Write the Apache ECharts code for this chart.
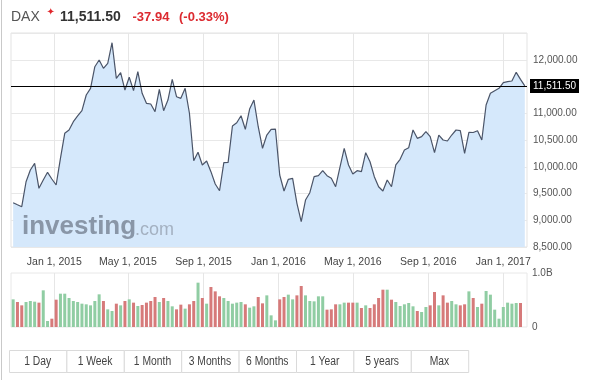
<!DOCTYPE html>
<html><head><meta charset="utf-8">
<script src="https://cdn.jsdelivr.net/npm/echarts@6/dist/echarts.min.js"></script>
<style>html,body{margin:0;padding:0;background:#fff}#c{width:600px;height:380px}</style>
</head><body><div id="c"></div>
<script>
// ---- data ----
const symbolName = 'DAX';
const lastPrice = 11511.50;
const priceChange = -37.94;
const priceChangePct = -0.33;
const firstWeek = '2014-10-26'; // weekly points, one per week from this date
const closes = [
  9328, 9290, 9253, 9720, 9939, 10064, 9597, 9752, 9896, 9771,
  9659, 10158, 10625, 10687, 10842, 10950, 11050, 11341, 11466, 11870,
  11995, 11840, 11933, 12318, 11653, 11758, 11434, 11672, 11422, 11777,
  11373, 11186, 11173, 11029, 11447, 11048, 11247, 11634, 11309, 11279,
  11466, 11000, 10113, 10270, 10033, 10107, 9908, 9677, 9552, 10076,
  10083, 10761, 10823, 10954, 10700, 11079, 11247, 10748, 10345, 10593,
  10700, 10705, 9846, 9547, 9765, 9784, 9317, 8973, 9378, 9515,
  9814, 9833, 9926, 9833, 9784, 9627, 9990, 10345, 10033, 9864,
  9926, 9908, 10263, 10094, 9814, 9627, 9547, 9752, 9627, 10033,
  10139, 10313, 10356, 10687, 10531, 10562, 10655, 10562, 10263, 10593,
  10500, 10481, 10593, 10687, 10674, 10251, 10644, 10640, 10674, 10500,
  11154, 11373, 11422, 11466, 11571, 11590, 11603, 11765, 11634, 11511.5
];
const volumes = [ // billions
  0.512, 0.463, 0.401, 0.463, 0.481, 0.469, 0.451, 0.679, 0.111, 0.154,
  0.506, 0.617, 0.617, 0.537, 0.481, 0.463, 0.432, 0.420, 0.401, 0.481,
  0.605, 0.481, 0.327, 0.296, 0.432, 0.401, 0.481, 0.512, 0.451, 0.389,
  0.407, 0.451, 0.481, 0.556, 0.463, 0.537, 0.481, 0.383, 0.327, 0.414,
  0.340, 0.420, 0.481, 0.821, 0.537, 0.432, 0.741, 0.660, 0.568, 0.537,
  0.481, 0.432, 0.451, 0.463, 0.420, 0.358, 0.383, 0.556, 0.438, 0.586,
  0.216, 0.123, 0.512, 0.556, 0.599, 0.512, 0.586, 0.759, 0.586, 0.481,
  0.475, 0.568, 0.568, 0.321, 0.327, 0.420, 0.420, 0.451, 0.451, 0.451,
  0.451, 0.352, 0.401, 0.352, 0.420, 0.537, 0.691, 0.691, 0.506, 0.463,
  0.389, 0.420, 0.444, 0.383, 0.296, 0.278, 0.370, 0.401, 0.648, 0.401,
  0.586, 0.451, 0.481, 0.420, 0.401, 0.420, 0.660, 0.537, 0.370, 0.432,
  0.667, 0.599, 0.321, 0.154, 0.370, 0.451, 0.432, 0.444, 0.444, null
];
const tickDates = ['2015-01-01','2015-05-01','2015-09-01','2016-01-01','2016-05-01','2016-09-01','2017-01-01'];
const tickLabels = ['Jan 1, 2015','May 1, 2015','Sep 1, 2015','Jan 1, 2016','May 1, 2016','Sep 1, 2016','Jan 1, 2017'];
const volumeLabels = ['0', '1.0B'];
const buttonLabels = ['1 Day','1 Week','1 Month','3 Months','6 Months','1 Year','5 years','Max'];

// ---- helpers ----
const FF = "'Liberation Sans', Arial, Helvetica, sans-serif";
function localDate(s, addDays) {
  const p = s.split('-').map(Number);
  return new Date(p[0], p[1] - 1, p[2] + (addDays || 0)).getTime();
}
const fmt2 = v => Number(v).toLocaleString('en-US', {minimumFractionDigits: 2, maximumFractionDigits: 2});
const weekTimes = closes.map((_, i) => localDate(firstWeek, 7 * i));
const tickTimes = tickDates.map(s => localDate(s));
const axisMin = new Date(2014, 9, 22, 12).getTime();
const axisMax = new Date(2017, 1, 8, 14).getTime();
const UP = '#90cda3', DOWN = '#d67a7a';

const priceData = closes.map((v, i) => [weekTimes[i], v]);
const volData = volumes.map((v, i) => ({
  value: [weekTimes[i], v],
  itemStyle: {color: (i === 0 || closes[i] >= closes[i - 1]) ? UP : DOWN}
}));

function tickFormatter(v) {
  const k = tickTimes.findIndex(t => Math.abs(t - v) < 43200000);
  return k >= 0 ? tickLabels[k] : '';
}

const chg = (priceChange > 0 ? '+' : '') + priceChange.toFixed(2);
const chgPct = '(' + (priceChangePct > 0 ? '+' : '') + priceChangePct.toFixed(2) + '%)';

const graphics = [
  {type: 'line', shape: {x1: 1.5, y1: 0, x2: 1.5, y2: 380}, style: {stroke: '#c9c9c9', lineWidth: 1}, z: 200},
  {type: 'text', x: 11, y: 17, style: {text: symbolName, fill: '#555', font: '14px ' + FF, textVerticalAlign: 'middle'}, z: 200},
  {type: 'text', x: 46.5, y: 12.5, style: {text: '✦', fill: '#e0262b', font: 'bold 10px DejaVu Sans', textVerticalAlign: 'middle'}, z: 200},
  {type: 'text', x: 60, y: 17, style: {text: fmt2(lastPrice), fill: '#333', font: 'bold 14px ' + FF, textVerticalAlign: 'middle'}, z: 200},
  {type: 'text', x: 132.5, y: 17.5, style: {text: chg, fill: '#dc2a30', font: 'bold 13px ' + FF, textVerticalAlign: 'middle'}, z: 200},
  {type: 'text', x: 179, y: 17.5, style: {text: chgPct, fill: '#dc2a30', font: 'bold 13px ' + FF, textVerticalAlign: 'middle'}, z: 200},
  {type: 'text', x: 22, y: 227, style: {text: 'investing', fill: '#8996a7', font: 'bold 26px ' + FF, textVerticalAlign: 'middle'}, z: 100},
  {type: 'text', x: 135, y: 230, style: {text: '.com', fill: '#a4b1c1', font: '18px ' + FF, textVerticalAlign: 'middle'}, z: 100}
];
const bx0 = 9, bw = 57.4, by = 350, bh = 22;
buttonLabels.forEach((lab, i) => {
  graphics.push({type: 'rect', shape: {x: bx0 + i * bw + 0.5, y: by + 0.5, width: bw, height: bh},
    style: {fill: '#fff', stroke: '#dadada', lineWidth: 1}, z: 150});
  graphics.push({type: 'text', x: bx0 + i * bw + bw / 2, y: by + bh / 2 + 1, scaleX: 0.86,
    style: {text: lab, fill: '#444', font: '12px ' + FF,
      textAlign: 'center', textVerticalAlign: 'middle'}, z: 151});
});

const chart = echarts.init(document.getElementById('c'), null, {renderer: 'canvas'});
chart.setOption({
  animation: false,
  backgroundColor: '#fff',
  grid: [
    {left: 11, top: 33, width: 516, height: 214, show: true, borderColor: '#e3e3e3', borderWidth: 1, outerBoundsMode: 'none', containLabel: false},
    {left: 11, top: 273, width: 516, height: 54, show: true, borderColor: '#e8e8e8', borderWidth: 1, outerBoundsMode: 'none', containLabel: false}
  ],
  xAxis: [
    {type: 'value', gridIndex: 0, min: axisMin, max: axisMax, scale: true,
      axisLine: {show: false}, axisTick: {show: false, customValues: tickTimes},
      axisLabel: {customValues: tickTimes, formatter: tickFormatter, margin: 10, color: '#444', fontSize: 10.5, fontFamily: FF, hideOverlap: false},
      splitLine: {show: true, lineStyle: {color: '#e6e6e6', width: 1}}},
    {type: 'value', gridIndex: 1, min: axisMin, max: axisMax, scale: true,
      axisLine: {show: false}, axisTick: {show: false, customValues: tickTimes},
      axisLabel: {show: false, customValues: tickTimes},
      splitLine: {show: true, lineStyle: {color: '#e6e6e6', width: 1}}}
  ],
  yAxis: [
    {type: 'value', gridIndex: 0, position: 'right', min: 8500, max: 12500, interval: 500,
      axisLine: {show: false}, axisTick: {show: false},
      axisLabel: {showMaxLabel: false, margin: 6, color: '#555', fontSize: 10, fontFamily: FF, formatter: v => fmt2(v)},
      splitLine: {show: true, lineStyle: {color: '#e8e8e8', width: 1}}},
    {type: 'value', gridIndex: 1, position: 'right', min: 0, max: 1, interval: 1,
      axisLine: {show: false}, axisTick: {show: false},
      axisLabel: {margin: 5, color: '#555', fontSize: 10, fontFamily: FF, formatter: v => volumeLabels[Math.round(v)]},
      splitLine: {show: false}}
  ],
  series: [
    {type: 'line', xAxisIndex: 0, yAxisIndex: 0, data: priceData, showSymbol: false, symbol: 'none',
      lineStyle: {color: '#4a5468', width: 1.2},
      areaStyle: {color: '#d5e8fb', opacity: 1},
      silent: true, z: 3,
      markLine: {silent: true, symbol: 'none', animation: false,
        lineStyle: {color: '#000', width: 1, type: 'solid'},
        label: {show: true, position: 'end', distance: 3, formatter: fmt2(lastPrice), color: '#fff',
          backgroundColor: '#000', padding: [2, 3, 2, 3], fontSize: 10, fontFamily: FF},
        data: [{yAxis: lastPrice}]}
    },
    {type: 'bar', xAxisIndex: 1, yAxisIndex: 1, data: volData, barWidth: 3, silent: true}
  ],
  graphic: graphics
});
</script></body></html>
